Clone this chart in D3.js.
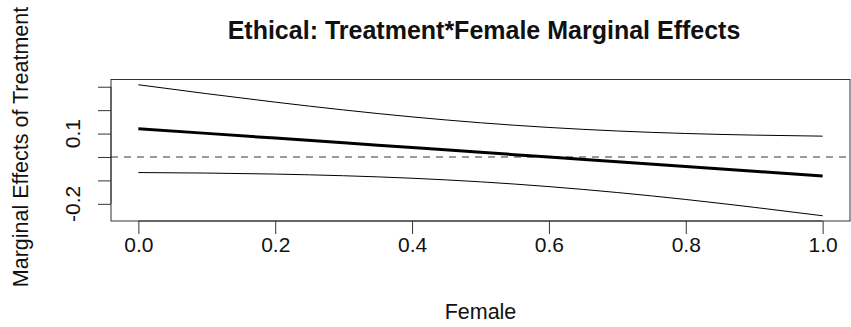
<!DOCTYPE html>
<html>
<head>
<meta charset="utf-8">
<script src="https://cdn.jsdelivr.net/npm/d3@7"></script>
<style>
  html, body { margin: 0; padding: 0; background: #fff; }
  svg { display: block; font-family: "Liberation Sans", Arial, Helvetica, sans-serif; }
</style>
</head>
<body>
<svg id="chart" width="851" height="327"></svg>
<script>
// Share of female respondents at which the effect is evaluated
const female = [0, 0.1, 0.2, 0.3, 0.4, 0.5, 0.6, 0.7, 0.8, 0.9, 1.0];
// Marginal effect of treatment and its 95% confidence bounds
const effect = [0.121, 0.1008, 0.0806, 0.0604, 0.0402, 0.020, -0.0002, -0.0204, -0.0406, -0.0608, -0.081];
const upper  = [0.3085, 0.2703, 0.2342, 0.2009, 0.1712, 0.1461, 0.1261, 0.1110, 0.1003, 0.0934, 0.0890];
const lower  = [-0.0665, -0.0687, -0.0730, -0.0801, -0.0908, -0.1061, -0.1265, -0.1518, -0.1815, -0.2150, -0.2510];
// Axis ticks and the labels that are printed
const xTicks = [0, 0.2, 0.4, 0.6, 0.8, 1.0];
const yTicks = [-0.2, -0.1, 0, 0.1, 0.2, 0.3];
const yTickLabels = { "-0.2": "-0.2", "0.1": "0.1" };

const svg = d3.select("#chart");
const box = { left: 111, right: 850, top: 79.5, bottom: 221 };

// R-style 4% padding around the data range
function padded(ext) {
  const p = (ext[1] - ext[0]) * 0.04;
  return [ext[0] - p, ext[1] + p];
}
const x = d3.scaleLinear().domain(padded(d3.extent(female))).range([box.left, box.right]);
const y = d3.scaleLinear().domain(padded([d3.min(lower), d3.max(upper)])).range([box.bottom, box.top]);

// Reference line at zero
svg.append("line")
  .attr("x1", box.left).attr("x2", box.right)
  .attr("y1", y(0)).attr("y2", y(0))
  .attr("stroke", "#7a7a7a").attr("stroke-width", 1.4)
  .attr("stroke-dasharray", "7,6");

const line = vals => d3.line()
  .x((d, i) => x(female[i]))
  .y(d => y(d))
  .curve(d3.curveMonotoneX)(vals);

svg.append("path").attr("d", line(upper)).attr("fill", "none").attr("stroke", "#000").attr("stroke-width", 1);
svg.append("path").attr("d", line(lower)).attr("fill", "none").attr("stroke", "#000").attr("stroke-width", 1);
svg.append("path").attr("d", line(effect)).attr("fill", "none").attr("stroke", "#000").attr("stroke-width", 3);

// Plot frame
svg.append("rect")
  .attr("x", box.left).attr("y", box.top)
  .attr("width", box.right - box.left).attr("height", box.bottom - box.top)
  .attr("fill", "none").attr("stroke", "#333").attr("stroke-width", 1);

// Bottom axis
const xAxis = svg.append("g").attr("transform", `translate(0,${box.bottom})`)
  .call(d3.axisBottom(x).tickValues(xTicks).tickSize(13).tickPadding(3).tickFormat(d3.format(".1f")));
xAxis.select(".domain").attr("d", `M${x(xTicks[0])},0H${x(xTicks[xTicks.length - 1])}`).attr("stroke", "#333");
xAxis.selectAll(".tick line").attr("stroke", "#333");
xAxis.selectAll(".tick text").attr("font-size", 21).attr("fill", "#111");

// Left axis, labels written parallel to the axis
const yAxis = svg.append("g").attr("transform", `translate(${box.left},0)`)
  .call(d3.axisLeft(y).tickValues(yTicks).tickSize(13).tickFormat(() => ""));
yAxis.select(".domain").attr("d", `M0,${y(yTicks[0])}V${y(yTicks[yTicks.length - 1])}`).attr("stroke", "#333");
yAxis.selectAll(".tick line").attr("stroke", "#333");

svg.append("g").selectAll("text")
  .data(yTicks.filter(t => yTickLabels[String(t)] !== undefined))
  .join("text")
  .attr("transform", d => `translate(80,${y(d)}) rotate(-90)`)
  .attr("text-anchor", "middle")
  .attr("font-size", 21).attr("fill", "#111")
  .text(d => yTickLabels[String(d)]);

// Titles
svg.append("text")
  .attr("x", 484).attr("y", 39)
  .attr("text-anchor", "middle").attr("font-size", 25).attr("font-weight", "bold").attr("fill", "#111")
  .text("Ethical: Treatment*Female Marginal Effects");

svg.append("text")
  .attr("x", (box.left + box.right) / 2).attr("y", 319)
  .attr("text-anchor", "middle").attr("font-size", 21.5).attr("fill", "#111")
  .text("Female");

svg.append("text")
  .attr("transform", `translate(28,147) rotate(-90)`)
  .attr("text-anchor", "middle").attr("font-size", 21.5).attr("fill", "#111")
  .text("Marginal Effects of Treatment");
</script>
</body>
</html>
